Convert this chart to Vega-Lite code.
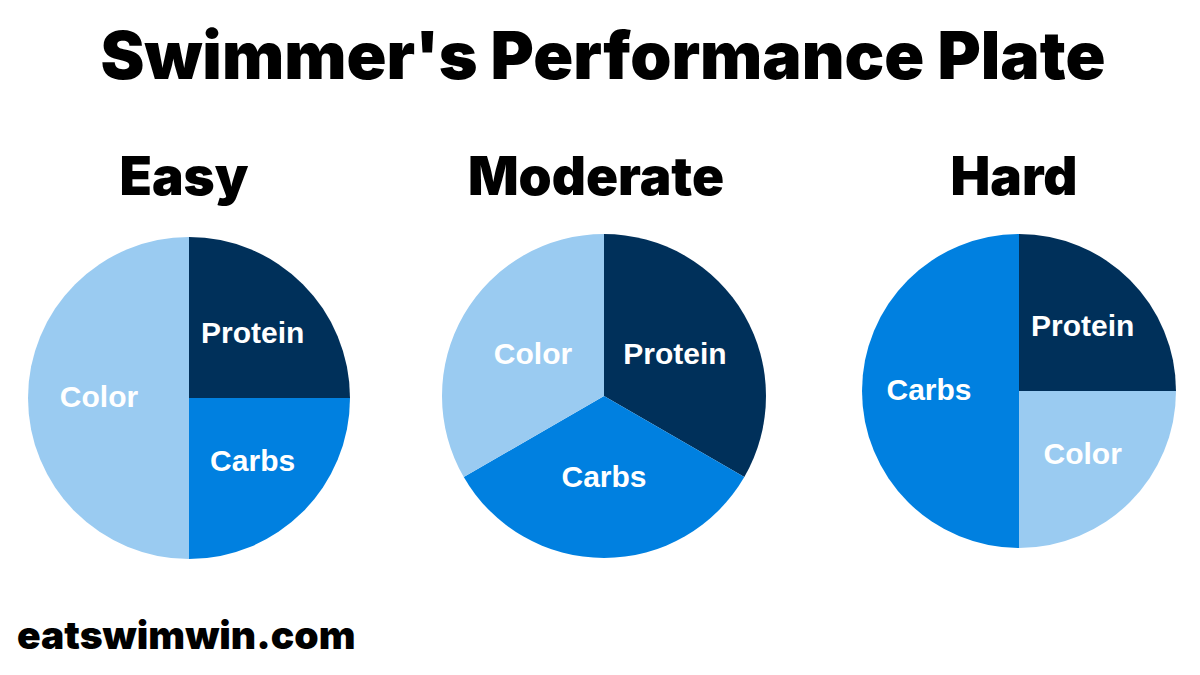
{
  "$schema": "https://vega.github.io/schema/vega-lite/v6.json",
  "background": "white",
  "padding": {"left": 17, "top": 26, "right": 5, "bottom": 5},
  "title": {"text": "Swimmer's Performance Plate", "font": "Inter", "fontWeight": 900, "fontSize": 66, "color": "black", "anchor": "middle", "offset": 60},
  "config": {"view": {"stroke": null}, "concat": {"spacing": 75},
    "title": {"font": "Inter", "fontWeight": 900, "fontSize": 53, "color": "black", "anchor": "middle", "offset": 22}},
  "vconcat": [
    {
      "title": {"text": "eatswimwin.com", "orient": "bottom", "anchor": "start", "font": "Inter", "fontWeight": 900, "fontSize": 39, "color": "black", "offset": 50, "dx": -2},
      "hconcat": [
        {
          "title": {"text": "Easy", "dx": -5},
          "width": 340, "height": 340,
          "data": {"values": [
            {"part": "Protein", "share": 25, "ord": 1},
            {"part": "Carbs", "share": 25, "ord": 2},
            {"part": "Color", "share": 50, "ord": 3}
          ]},
          "encoding": {
            "theta": {"field": "share", "type": "quantitative", "stack": true},
            "order": {"field": "ord", "type": "quantitative"},
            "color": {"field": "part", "type": "nominal", "legend": null,
              "scale": {"domain": ["Protein", "Carbs", "Color"], "range": ["#00305A", "#0080E0", "#9ACBF1"]}}
          },
          "layer": [
            {"mark": {"type": "arc", "outerRadius": 161}},
            {"mark": {"type": "text", "radius": 90, "font": "Liberation Sans", "fontWeight": "bold", "fontSize": 30},
             "encoding": {"text": {"field": "part"}, "color": {"value": "white"}}}
          ]
        },
        {
          "title": {"text": "Moderate", "dx": -8},
          "width": 340, "height": 336,
          "data": {"values": [
            {"part": "Protein", "share": 33.33, "ord": 1},
            {"part": "Carbs", "share": 33.33, "ord": 2},
            {"part": "Color", "share": 33.34, "ord": 3}
          ]},
          "encoding": {
            "theta": {"field": "share", "type": "quantitative", "stack": true},
            "order": {"field": "ord", "type": "quantitative"},
            "color": {"field": "part", "type": "nominal", "legend": null,
              "scale": {"domain": ["Protein", "Carbs", "Color"], "range": ["#00305A", "#0080E0", "#9ACBF1"]}}
          },
          "layer": [
            {"mark": {"type": "arc", "outerRadius": 162}},
            {"mark": {"type": "text", "radius": 82, "font": "Liberation Sans", "fontWeight": "bold", "fontSize": 30},
             "encoding": {"text": {"field": "part"}, "color": {"value": "white"}}}
          ]
        },
        {
          "title": {"text": "Hard", "dx": -5},
          "width": 340, "height": 326,
          "data": {"values": [
            {"part": "Protein", "share": 25, "ord": 1},
            {"part": "Color", "share": 25, "ord": 2},
            {"part": "Carbs", "share": 50, "ord": 3}
          ]},
          "encoding": {
            "theta": {"field": "share", "type": "quantitative", "stack": true},
            "order": {"field": "ord", "type": "quantitative"},
            "color": {"field": "part", "type": "nominal", "legend": null,
              "scale": {"domain": ["Protein", "Carbs", "Color"], "range": ["#00305A", "#0080E0", "#9ACBF1"]}}
          },
          "layer": [
            {"mark": {"type": "arc", "outerRadius": 157}},
            {"mark": {"type": "text", "radius": 90, "font": "Liberation Sans", "fontWeight": "bold", "fontSize": 30},
             "encoding": {"text": {"field": "part"}, "color": {"value": "white"}}}
          ]
        }
      ]
    }
  ]
}
